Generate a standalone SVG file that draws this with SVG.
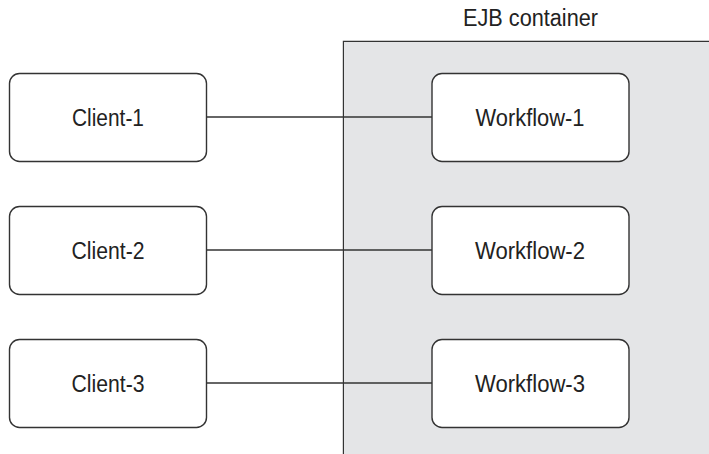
<svg xmlns="http://www.w3.org/2000/svg" width="709" height="454" viewBox="0 0 709 454">
<style>
.box{fill:#ffffff;stroke:#333333;stroke-width:1.4}
.lbl{font-family:"Liberation Sans Narrow","Liberation Sans",Arial,sans-serif;font-size:23px;fill:#222222;text-anchor:middle}
.conn{stroke:#333333;stroke-width:1.3;fill:none}
</style>
<rect width="709" height="454" fill="#ffffff"/>
<g id="container">
<path d="M343.5,454 V41.5 H709" fill="#e4e5e7" stroke="#333333" stroke-width="1.4"/>
<rect x="344" y="42" width="365" height="412" fill="#e4e5e7"/>
<text class="lbl" x="530.5" y="26" textLength="135" lengthAdjust="spacingAndGlyphs">EJB container</text>
</g>
<g id="connectors">
<line class="conn" x1="207" y1="117" x2="432" y2="117"/>
<line class="conn" x1="207" y1="250" x2="432" y2="250"/>
<line class="conn" x1="207" y1="383" x2="432" y2="383"/>
</g>
<g id="client1"><rect class="box" x="9.5" y="73.5" width="197" height="88" rx="10"/><text class="lbl" x="108" y="126" textLength="72" lengthAdjust="spacingAndGlyphs">Client-1</text></g>
<g id="client2"><rect class="box" x="9.5" y="206.5" width="197" height="88" rx="10"/><text class="lbl" x="108" y="259" textLength="73" lengthAdjust="spacingAndGlyphs">Client-2</text></g>
<g id="client3"><rect class="box" x="9.5" y="339.5" width="197" height="88" rx="10"/><text class="lbl" x="108" y="392" textLength="73" lengthAdjust="spacingAndGlyphs">Client-3</text></g>
<g id="workflow1"><rect class="box" x="432" y="73.5" width="197" height="88" rx="10"/><text class="lbl" x="530" y="126" textLength="109" lengthAdjust="spacingAndGlyphs">Workflow-1</text></g>
<g id="workflow2"><rect class="box" x="432" y="206.5" width="197" height="88" rx="10"/><text class="lbl" x="530" y="259" textLength="110" lengthAdjust="spacingAndGlyphs">Workflow-2</text></g>
<g id="workflow3"><rect class="box" x="432" y="339.5" width="197" height="88" rx="10"/><text class="lbl" x="530" y="392" textLength="110" lengthAdjust="spacingAndGlyphs">Workflow-3</text></g>
</svg>
